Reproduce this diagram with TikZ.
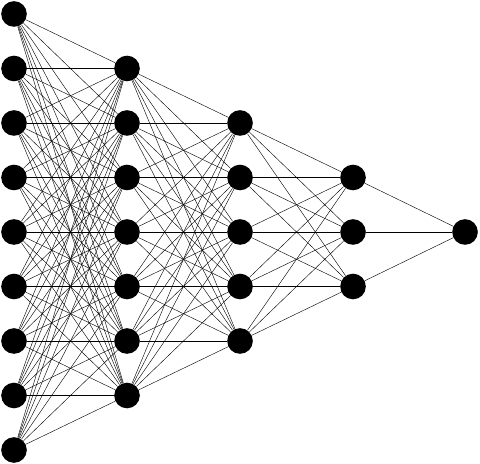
\documentclass[tikz,border=0pt]{standalone}
\usepackage{tikz}
\usetikzlibrary{backgrounds}

\begin{document}
\begin{tikzpicture}
		[x=0.025cm,y=-0.025cm,
		 n/.style={minimum size=0.64cm,inner sep=0pt,circle,fill=black},
		 link/.style={draw=black,line width=0.3pt}]

		\useasboundingbox (0,0) rectangle (480,464);

		% layers: index / x position / number of nodes
		\foreach \l/\x/\m in {1/14/9,2/127/7,3/240/5,4/353/3,5/465/1}
		{
			\foreach \j in {1,...,\m}
				\node[n] (l\l-\j) at (\x,{232+(\j-(\m+1)/2)*54.5}) {};
		}

		\begin{pgfonlayer}{background}
			\foreach \a/\na/\b/\nb in {1/9/2/7,2/7/3/5,3/5/4/3,4/3/5/1}
				\foreach \i in {1,...,\na}
					\foreach \k in {1,...,\nb}
						\draw[link] (l\a-\i) -- (l\b-\k);
		\end{pgfonlayer}

	\end{tikzpicture}
\end{document}
